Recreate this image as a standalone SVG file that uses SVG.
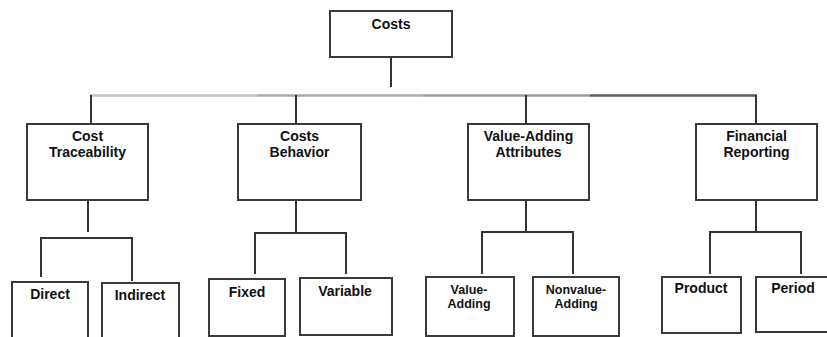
<svg xmlns="http://www.w3.org/2000/svg" width="827" height="337" viewBox="0 0 827 337">
  <style>
    .box { fill: #ffffff; stroke: #3a3a3a; stroke-width: 2; }
    .wire { fill: none; stroke: #333333; stroke-width: 2; }
    .label { font-family: "Liberation Sans", Arial, sans-serif; font-weight: bold; font-size: 14px; fill: #111111; text-anchor: middle; }
    .small { font-size: 12.5px; }
  </style>
  <rect width="827" height="337" fill="#ffffff"/>

  <!-- connectors -->
  <g id="connectors">
    <!-- root stem and top bus (bus shades from light to dark) -->
    <line class="wire" x1="391" y1="57" x2="391" y2="87"/>
    <line x1="90" y1="95.5" x2="257" y2="95.5" stroke="#c4c4c4" stroke-width="2.5"/>
    <line x1="257" y1="95.5" x2="423" y2="95.5" stroke="#ababab" stroke-width="2.5"/>
    <line x1="423" y1="95.5" x2="590" y2="95.5" stroke="#9a9a9a" stroke-width="2.5"/>
    <line x1="590" y1="95.5" x2="757" y2="95.5" stroke="#5e5e5e" stroke-width="2.5"/>
    <line class="wire" x1="91" y1="95" x2="91" y2="124"/>
    <line class="wire" x1="296" y1="95" x2="296" y2="124"/>
    <line class="wire" x1="526" y1="95" x2="526" y2="124"/>
    <line class="wire" x1="756" y1="95" x2="756" y2="124"/>

    <!-- Cost Traceability branch -->
    <line class="wire" x1="88" y1="200" x2="88" y2="232"/>
    <polyline class="wire" points="41,277 41,238 132,238 132,281"/>

    <!-- Costs Behavior branch -->
    <line class="wire" x1="296" y1="200" x2="296" y2="233"/>
    <polyline class="wire" points="255,274 255,233 346,233 346,274"/>

    <!-- Value-Adding Attributes branch -->
    <line class="wire" x1="526" y1="200" x2="526" y2="232"/>
    <polyline class="wire" points="482,274 482,232 573,232 573,274"/>

    <!-- Financial Reporting branch -->
    <line class="wire" x1="756" y1="200" x2="756" y2="232"/>
    <polyline class="wire" points="710,274 710,232 801,232 801,274"/>
  </g>

  <!-- root -->
  <g id="costs">
    <rect class="box" x="330" y="11" width="122" height="46"/>
    <text class="label" x="391" y="29">Costs</text>
  </g>

  <!-- second level -->
  <g id="cost-traceability">
    <rect class="box" x="27" y="124" width="121" height="76"/>
    <text class="label" x="87.5" y="141">Cost</text>
    <text class="label" x="87.5" y="157">Traceability</text>
  </g>
  <g id="costs-behavior">
    <rect class="box" x="238" y="124" width="123" height="76"/>
    <text class="label" x="299.5" y="141">Costs</text>
    <text class="label" x="299.5" y="157">Behavior</text>
  </g>
  <g id="value-adding-attributes">
    <rect class="box" x="468" y="124" width="121" height="76"/>
    <text class="label" x="528.5" y="141">Value-Adding</text>
    <text class="label" x="528.5" y="157">Attributes</text>
  </g>
  <g id="financial-reporting">
    <rect class="box" x="696" y="124" width="121" height="76"/>
    <text class="label" x="756.5" y="141">Financial</text>
    <text class="label" x="756.5" y="157">Reporting</text>
  </g>

  <!-- leaves -->
  <g id="direct">
    <rect class="box" x="12" y="282" width="76" height="60"/>
    <text class="label" x="50" y="299">Direct</text>
  </g>
  <g id="indirect">
    <rect class="box" x="102" y="283" width="77" height="60"/>
    <text class="label" x="140" y="300">Indirect</text>
  </g>
  <g id="fixed">
    <rect class="box" x="209" y="279" width="76" height="57"/>
    <text class="label" x="247" y="297">Fixed</text>
  </g>
  <g id="variable">
    <rect class="box" x="300" y="278" width="92" height="57"/>
    <text class="label" x="345" y="296">Variable</text>
  </g>
  <g id="value-adding">
    <rect class="box" x="426" y="277" width="88" height="59"/>
    <text class="label small" x="469" y="294">Value-</text>
    <text class="label small" x="469" y="308">Adding</text>
  </g>
  <g id="nonvalue-adding">
    <rect class="box" x="533" y="277" width="86" height="59"/>
    <text class="label small" x="576" y="294">Nonvalue-</text>
    <text class="label small" x="576" y="308">Adding</text>
  </g>
  <g id="product">
    <rect class="box" x="662" y="277" width="79" height="56"/>
    <text class="label" x="701" y="293">Product</text>
  </g>
  <g id="period">
    <rect class="box" x="756" y="277" width="80" height="55"/>
    <text class="label" x="793" y="293">Period</text>
  </g>
</svg>
